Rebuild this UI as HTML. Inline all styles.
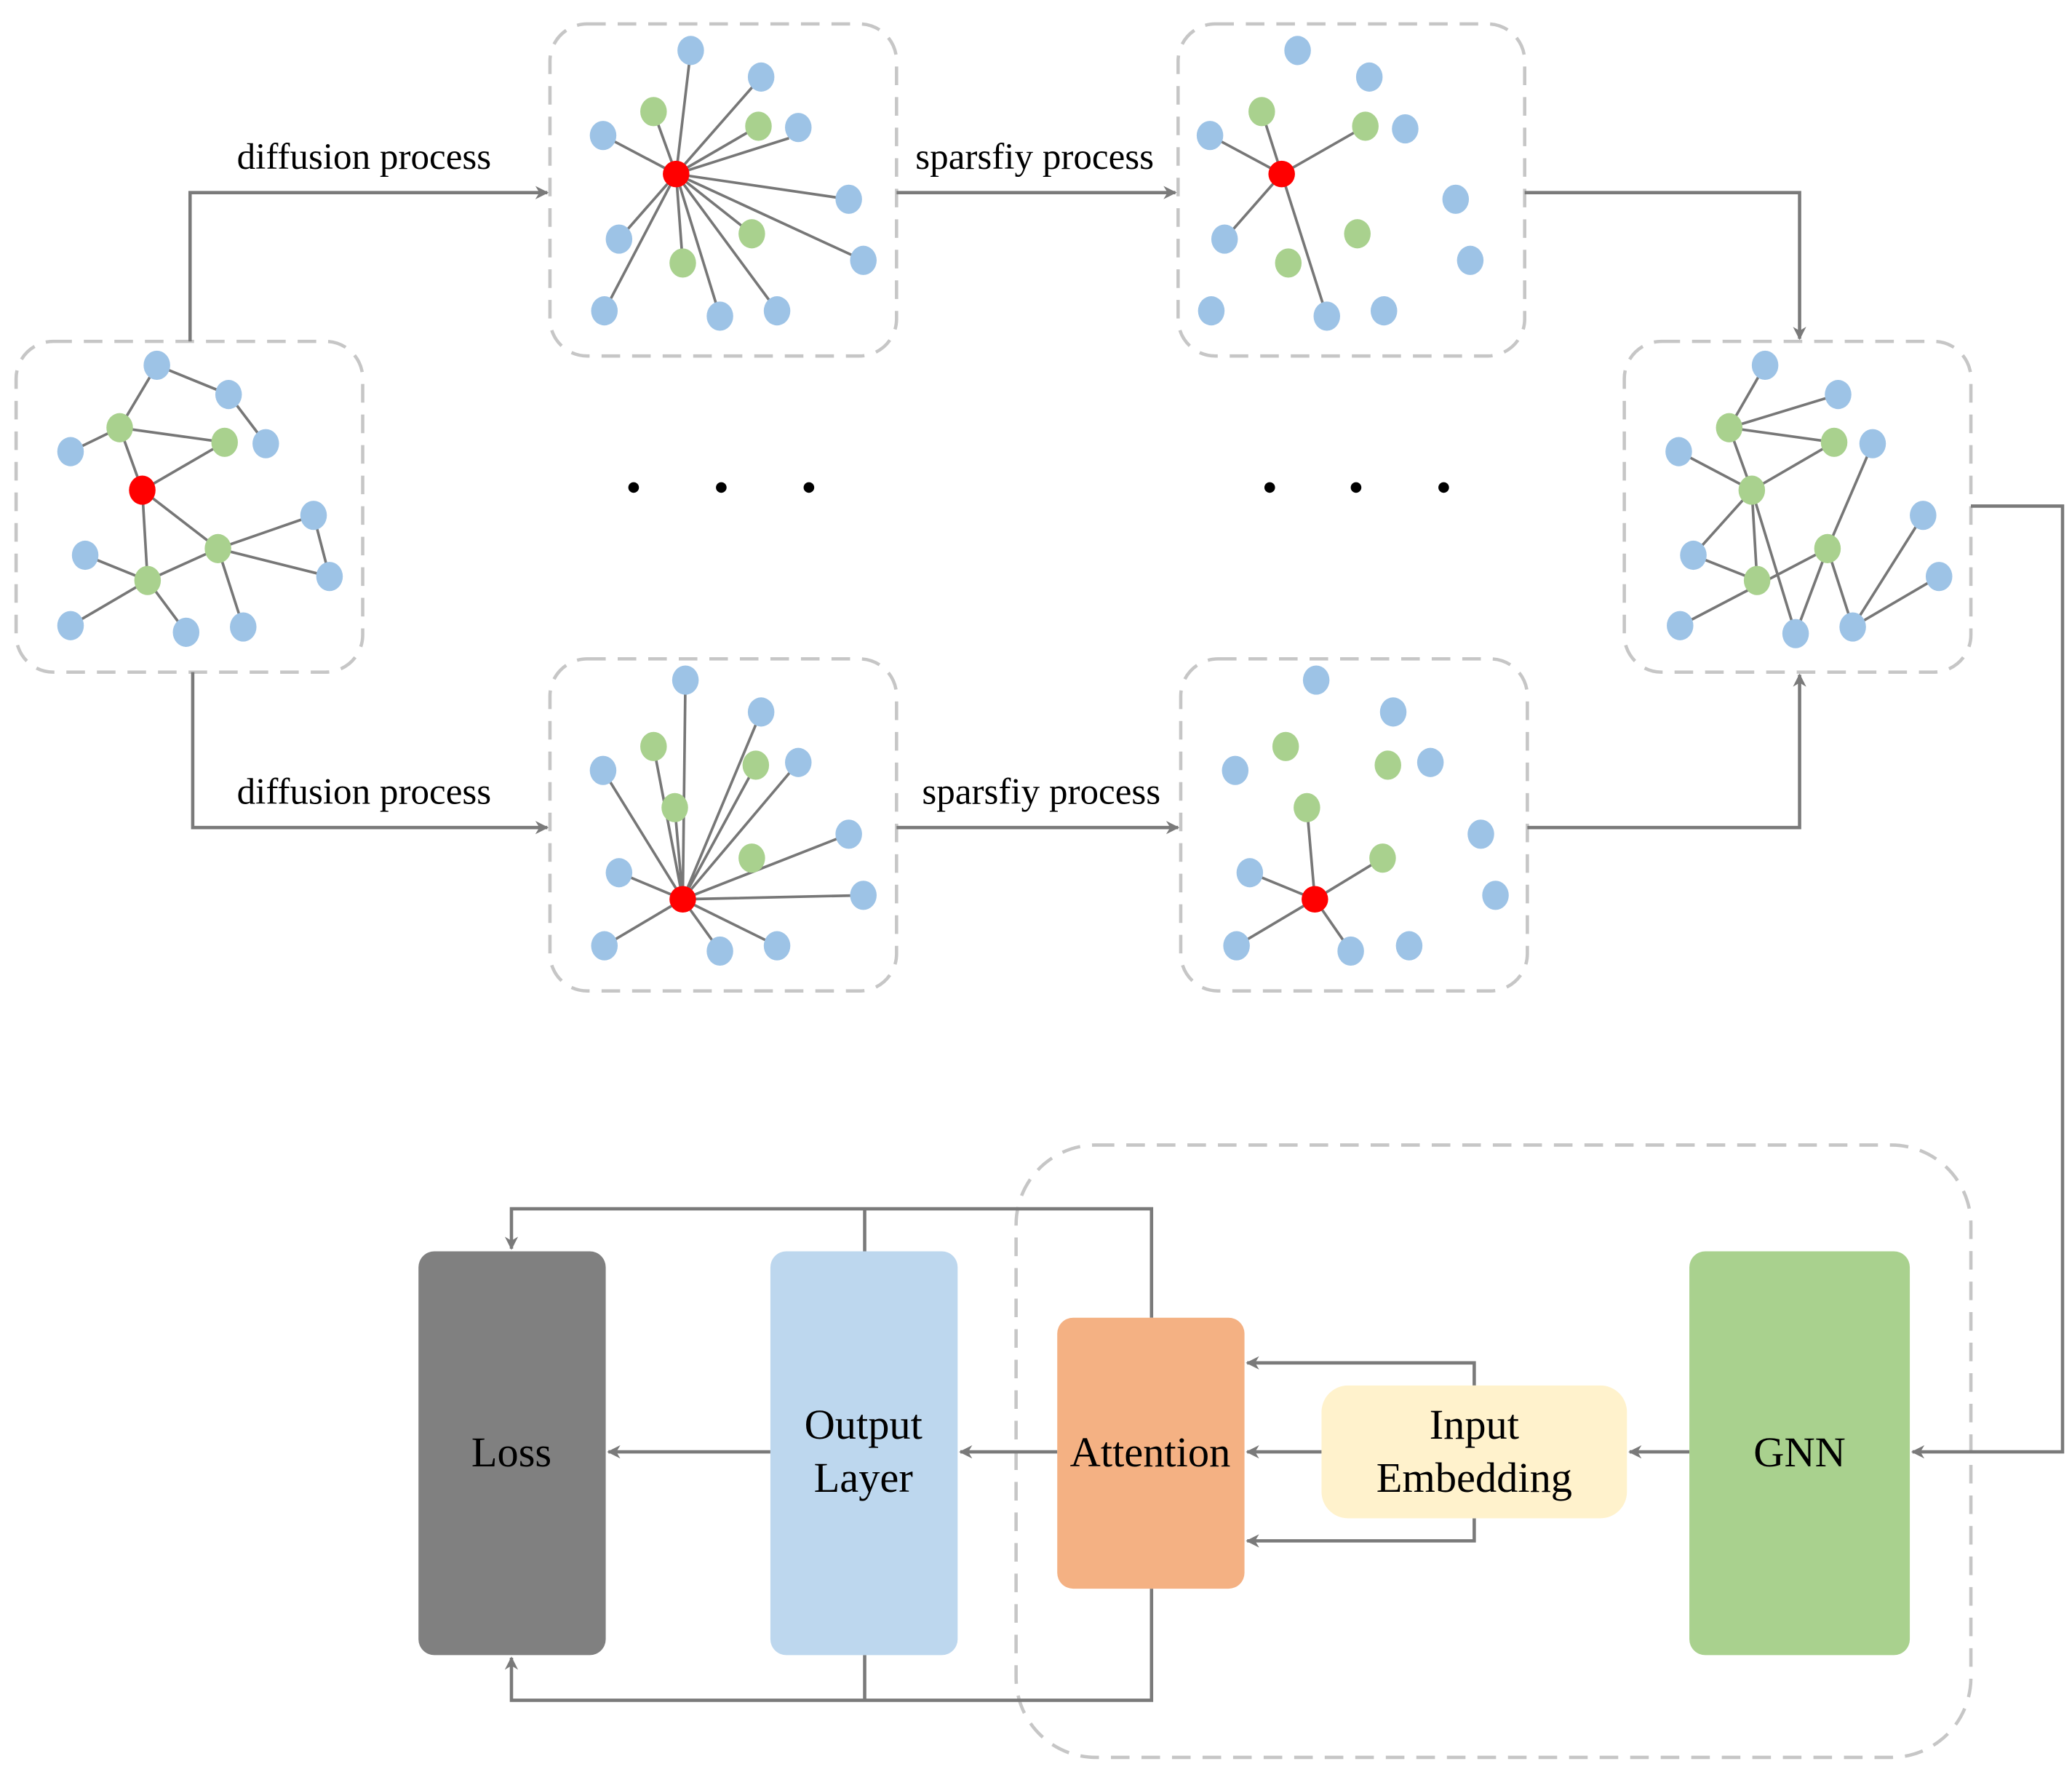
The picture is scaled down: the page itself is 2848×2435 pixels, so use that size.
<!DOCTYPE html>
<html><head><meta charset="utf-8"><style>
html,body{margin:0;padding:0;background:#fff}
svg{display:block}
text{font-family:"Liberation Serif",serif;fill:#000}
</style></head><body>
<svg width="2848" height="2435" viewBox="0 0 1560 1334" xmlns="http://www.w3.org/2000/svg">
<defs>
<marker id="a" markerWidth="10" markerHeight="10" refX="9" refY="5" orient="auto" markerUnits="userSpaceOnUse">
<path d="M0,0 L10,5 L0,10 L3,5 Z" fill="#7a7a7a"/></marker>
</defs>
<g fill="none" stroke="#c6c6c6" stroke-width="2.5" stroke-dasharray="14,9">
<rect x="12" y="257" width="261" height="249" rx="28"/>
<rect x="414" y="18" width="261" height="250" rx="28"/>
<rect x="887" y="18" width="261" height="250" rx="28"/>
<rect x="1223" y="257" width="261" height="249" rx="28"/>
<rect x="414" y="496" width="261" height="250" rx="28"/>
<rect x="889" y="496" width="261" height="250" rx="28"/>
<rect x="765" y="862" width="719" height="461" rx="60"/>
</g>
<g fill="none" stroke="#7a7a7a" stroke-width="2.5">
<path d="M143,257 V145 H412" marker-end="url(#a)"/>
<path d="M675,145 H885" marker-end="url(#a)"/>
<path d="M1148,145 H1355 V255" marker-end="url(#a)"/>
<path d="M145,506 V623 H412" marker-end="url(#a)"/>
<path d="M675,623 H887" marker-end="url(#a)"/>
<path d="M1150,623 H1355 V508" marker-end="url(#a)"/>
<path d="M1484,381 H1553 V1093 H1440" marker-end="url(#a)"/>
<path d="M1272,1093 H1227" marker-end="url(#a)"/>
<path d="M995,1093 H939" marker-end="url(#a)"/>
<path d="M1110,1043 V1026 H939" marker-end="url(#a)"/>
<path d="M1110,1143 V1160 H939" marker-end="url(#a)"/>
<path d="M796,1093 H723" marker-end="url(#a)"/>
<path d="M580,1093 H458" marker-end="url(#a)"/>
<path d="M867,992 V910 H385 V940" marker-end="url(#a)"/>
<path d="M651,942 V910"/>
<path d="M867,1196 V1280 H385 V1248" marker-end="url(#a)"/>
<path d="M651,1246 V1280"/>
</g>
<g font-size="28" text-anchor="middle">
<text x="274" y="127">diffusion process</text>
<text x="779" y="127">sparsfiy process</text>
<text x="274" y="605">diffusion process</text>
<text x="784" y="605">sparsfiy process</text>
</g>
<g fill="#000">
<circle cx="477" cy="367" r="4"/><circle cx="543" cy="367" r="4"/><circle cx="609" cy="367" r="4"/>
<circle cx="956" cy="367" r="4"/><circle cx="1021" cy="367" r="4"/><circle cx="1087" cy="367" r="4"/>
</g>
<g stroke="#777" stroke-width="2">
<path d="M118,275 L90,322 M118,275 L172,297 M172,297 L200,334 M90,322 L53,340 M90,322 L169,333 M90,322 L107,369 M169,333 L107,369 M107,369 L111,437 M107,369 L164,413 M164,413 L236,388 M164,413 L248,434 M236,388 L248,434 M164,413 L111,437 M111,437 L53,471 M111,437 L140,476 M164,413 L183,472 M111,437 L64,418"/>
<path d="M509,131 L520,38 M509,131 L573,58 M509,131 L594,104 M509,131 L492,84 M509,131 L571,95 M509,131 L454,102 M509,131 L639,150 M509,131 L650,196 M509,131 L585,234 M509,131 L542,238 M509,131 L514,198 M509,131 L455,234 M509,131 L466,180 M509,131 L566,176"/>
<path d="M965,131 L950,84 M965,131 L911,102 M965,131 L1028,95 M965,131 L922,180 M965,131 L999,238"/>
<path d="M1329,275 L1302,322 M1302,322 L1384,297 M1302,322 L1381,333 M1264,340 L1319,369 M1381,333 L1319,369 M1302,322 L1319,369 M1319,369 L1275,418 M1319,369 L1323,437 M1319,369 L1352,477 M1275,418 L1323,437 M1376,413 L1265,471 M1376,413 L1410,334 M1376,413 L1395,472 M1376,413 L1352,477 M1395,472 L1448,388 M1395,472 L1460,434"/>
<path d="M514,677 L516,512 M514,677 L492,562 M514,677 L454,580 M514,677 L508,608 M514,677 L573,536 M514,677 L569,576 M514,677 L601,574 M514,677 L639,628 M514,677 L650,674 M514,677 L585,712 M514,677 L542,716 M514,677 L455,712 M514,677 L466,657"/>
<path d="M990,677 L984,608 M990,677 L1041,646 M990,677 L941,657 M990,677 L931,712 M990,677 L1017,716"/>
</g>
<g fill="#9dc3e6">
<ellipse cx="118" cy="275" rx="10" ry="11"/><ellipse cx="172" cy="297" rx="10" ry="11"/><ellipse cx="53" cy="340" rx="10" ry="11"/><ellipse cx="200" cy="334" rx="10" ry="11"/><ellipse cx="236" cy="388" rx="10" ry="11"/><ellipse cx="64" cy="418" rx="10" ry="11"/><ellipse cx="248" cy="434" rx="10" ry="11"/><ellipse cx="53" cy="471" rx="10" ry="11"/><ellipse cx="140" cy="476" rx="10" ry="11"/><ellipse cx="183" cy="472" rx="10" ry="11"/>
<ellipse cx="520" cy="38" rx="10" ry="11"/><ellipse cx="573" cy="58" rx="10" ry="11"/><ellipse cx="601" cy="96" rx="10" ry="11"/><ellipse cx="454" cy="102" rx="10" ry="11"/><ellipse cx="639" cy="150" rx="10" ry="11"/><ellipse cx="466" cy="180" rx="10" ry="11"/><ellipse cx="650" cy="196" rx="10" ry="11"/><ellipse cx="455" cy="234" rx="10" ry="11"/><ellipse cx="542" cy="238" rx="10" ry="11"/><ellipse cx="585" cy="234" rx="10" ry="11"/>
<ellipse cx="977" cy="38" rx="10" ry="11"/><ellipse cx="1031" cy="58" rx="10" ry="11"/><ellipse cx="1058" cy="97" rx="10" ry="11"/><ellipse cx="911" cy="102" rx="10" ry="11"/><ellipse cx="1096" cy="150" rx="10" ry="11"/><ellipse cx="922" cy="180" rx="10" ry="11"/><ellipse cx="1107" cy="196" rx="10" ry="11"/><ellipse cx="912" cy="234" rx="10" ry="11"/><ellipse cx="999" cy="238" rx="10" ry="11"/><ellipse cx="1042" cy="234" rx="10" ry="11"/>
<ellipse cx="1329" cy="275" rx="10" ry="11"/><ellipse cx="1384" cy="297" rx="10" ry="11"/><ellipse cx="1264" cy="340" rx="10" ry="11"/><ellipse cx="1410" cy="334" rx="10" ry="11"/><ellipse cx="1448" cy="388" rx="10" ry="11"/><ellipse cx="1275" cy="418" rx="10" ry="11"/><ellipse cx="1460" cy="434" rx="10" ry="11"/><ellipse cx="1265" cy="471" rx="10" ry="11"/><ellipse cx="1352" cy="477" rx="10" ry="11"/><ellipse cx="1395" cy="472" rx="10" ry="11"/>
<ellipse cx="516" cy="512" rx="10" ry="11"/><ellipse cx="573" cy="536" rx="10" ry="11"/><ellipse cx="601" cy="574" rx="10" ry="11"/><ellipse cx="454" cy="580" rx="10" ry="11"/><ellipse cx="639" cy="628" rx="10" ry="11"/><ellipse cx="466" cy="657" rx="10" ry="11"/><ellipse cx="650" cy="674" rx="10" ry="11"/><ellipse cx="455" cy="712" rx="10" ry="11"/><ellipse cx="542" cy="716" rx="10" ry="11"/><ellipse cx="585" cy="712" rx="10" ry="11"/>
<ellipse cx="991" cy="512" rx="10" ry="11"/><ellipse cx="1049" cy="536" rx="10" ry="11"/><ellipse cx="1077" cy="574" rx="10" ry="11"/><ellipse cx="930" cy="580" rx="10" ry="11"/><ellipse cx="1115" cy="628" rx="10" ry="11"/><ellipse cx="941" cy="657" rx="10" ry="11"/><ellipse cx="1126" cy="674" rx="10" ry="11"/><ellipse cx="931" cy="712" rx="10" ry="11"/><ellipse cx="1017" cy="716" rx="10" ry="11"/><ellipse cx="1061" cy="712" rx="10" ry="11"/>
</g>
<g fill="#a9d18e">
<ellipse cx="90" cy="322" rx="10" ry="11"/><ellipse cx="169" cy="333" rx="10" ry="11"/><ellipse cx="164" cy="413" rx="10" ry="11"/><ellipse cx="111" cy="437" rx="10" ry="11"/>
<ellipse cx="492" cy="84" rx="10" ry="11"/><ellipse cx="571" cy="95" rx="10" ry="11"/><ellipse cx="566" cy="176" rx="10" ry="11"/><ellipse cx="514" cy="198" rx="10" ry="11"/>
<ellipse cx="950" cy="84" rx="10" ry="11"/><ellipse cx="1028" cy="95" rx="10" ry="11"/><ellipse cx="1022" cy="176" rx="10" ry="11"/><ellipse cx="970" cy="198" rx="10" ry="11"/>
<ellipse cx="1302" cy="322" rx="10" ry="11"/><ellipse cx="1381" cy="333" rx="10" ry="11"/><ellipse cx="1319" cy="369" rx="10" ry="11"/><ellipse cx="1376" cy="413" rx="10" ry="11"/><ellipse cx="1323" cy="437" rx="10" ry="11"/>
<ellipse cx="492" cy="562" rx="10" ry="11"/><ellipse cx="569" cy="576" rx="10" ry="11"/><ellipse cx="508" cy="608" rx="10" ry="11"/><ellipse cx="566" cy="646" rx="10" ry="11"/>
<ellipse cx="968" cy="562" rx="10" ry="11"/><ellipse cx="1045" cy="576" rx="10" ry="11"/><ellipse cx="984" cy="608" rx="10" ry="11"/><ellipse cx="1041" cy="646" rx="10" ry="11"/>
</g>
<g fill="#ff0000">
<ellipse cx="107" cy="369" rx="10" ry="11"/><ellipse cx="509" cy="131" rx="10" ry="10"/><ellipse cx="965" cy="131" rx="10" ry="10"/><ellipse cx="514" cy="677" rx="10" ry="10"/><ellipse cx="990" cy="677" rx="10" ry="10"/>
</g>
<rect x="315" y="942" width="141" height="304" rx="12" fill="#808080"/>
<rect x="580" y="942" width="141" height="304" rx="12" fill="#bdd7ee"/>
<rect x="796" y="992" width="141" height="204" rx="12" fill="#f4b183"/>
<rect x="995" y="1043" width="230" height="100" rx="20" fill="#fff2cc"/>
<rect x="1272" y="942" width="166" height="304" rx="12" fill="#a9d18e"/>
<g font-size="32" text-anchor="middle">
<text x="385" y="1104">Loss</text>
<text x="650" y="1083">Output</text>
<text x="650" y="1123">Layer</text>
<text x="866" y="1104">Attention</text>
<text x="1110" y="1083">Input</text>
<text x="1110" y="1123">Embedding</text>
<text x="1355" y="1104">GNN</text>
</g>
</svg>
</body></html>
